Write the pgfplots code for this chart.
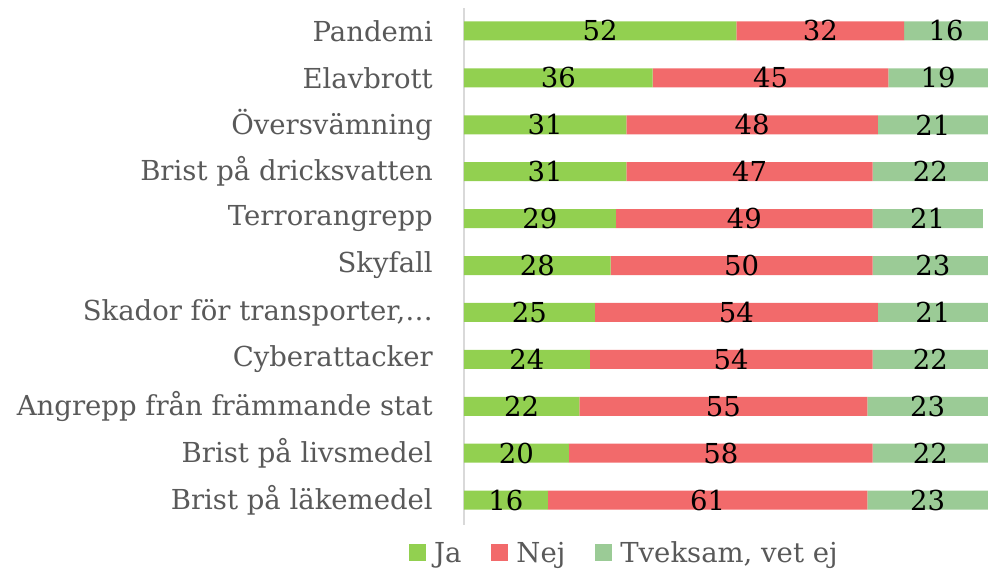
\documentclass[border=0pt]{standalone}
\usepackage{fontspec}
\setmainfont{DejaVu Serif}
\usepackage{pgfplots}
\usepackage{pgfplotstable}
\pgfplotsset{compat=1.18}

\definecolor{jaC}{HTML}{92D050}
\definecolor{nejC}{HTML}{F26A6B}
\definecolor{tvC}{HTML}{9BCB96}
\definecolor{txt}{HTML}{595959}
\definecolor{axgray}{HTML}{D9D9D9}

% y: 10 = top row (Pandemi)
\pgfplotstableread{
y  ja nej tv
10 52 32 16
9  36 45 19
8  31 48 21
7  31 47 22
6  29 49 21
5  28 50 23
4  25 54 21
3  24 54 22
2  22 55 23
1  20 58 22
0  16 61 23
}\risk

\newcommand{\lblfont}{\fontsize{27.5}{33}\selectfont}

\begin{document}
\begin{tikzpicture}
\useasboundingbox (-464pt,-44pt) rectangle (524pt,525pt);
\begin{axis}[
    xbar stacked,
    scale only axis,
    width=529.24pt, height=517pt,
    xmin=0, xmax=101,
    ymin=-0.53, ymax=10.49,
    bar width=19pt,
    axis x line=none,
    axis y line*=left,
    y axis line style={axgray, line width=1.5pt},
    ytick={0,...,10},
    yticklabels={Brist på läkemedel, Brist på livsmedel, Angrepp från främmande stat,
        Cyberattacker, {Skador för transporter,…}, Skyfall, Terrorangrepp,
        Brist på dricksvatten, Översvämning, Elavbrott, Pandemi},
    major tick length=0pt,
    yticklabel style={font=\lblfont, text=txt, inner sep=0pt, xshift=-31pt},
    point meta=explicit,
    nodes near coords={\lblfont\rmfamily\pgfmathprintnumber[assume math mode=true]{\pgfplotspointmeta}},
    every node near coord/.append style={text=black, anchor=center},
    legend style={at={(0.303,-0.054)}, anchor=center, draw=none, fill=none,
        legend columns=-1, font=\lblfont, text=txt,
        /tikz/every even column/.append style={column sep=28pt}},
    legend image code/.code={\fill[#1] (0pt,-8.5pt) rectangle (17pt,8.5pt);},
]
\addplot[fill=jaC, draw=none] table[x=ja, y=y, meta=ja]{\risk};
\addplot[fill=nejC, draw=none] table[x=nej, y=y, meta=nej]{\risk};
\addplot[fill=tvC, draw=none] table[x=tv, y=y, meta=tv]{\risk};
\legend{\hspace{6pt}Ja, \hspace{6pt}Nej, {\hspace{6pt}Tveksam, vet ej}}
\end{axis}
\end{tikzpicture}
\end{document}
